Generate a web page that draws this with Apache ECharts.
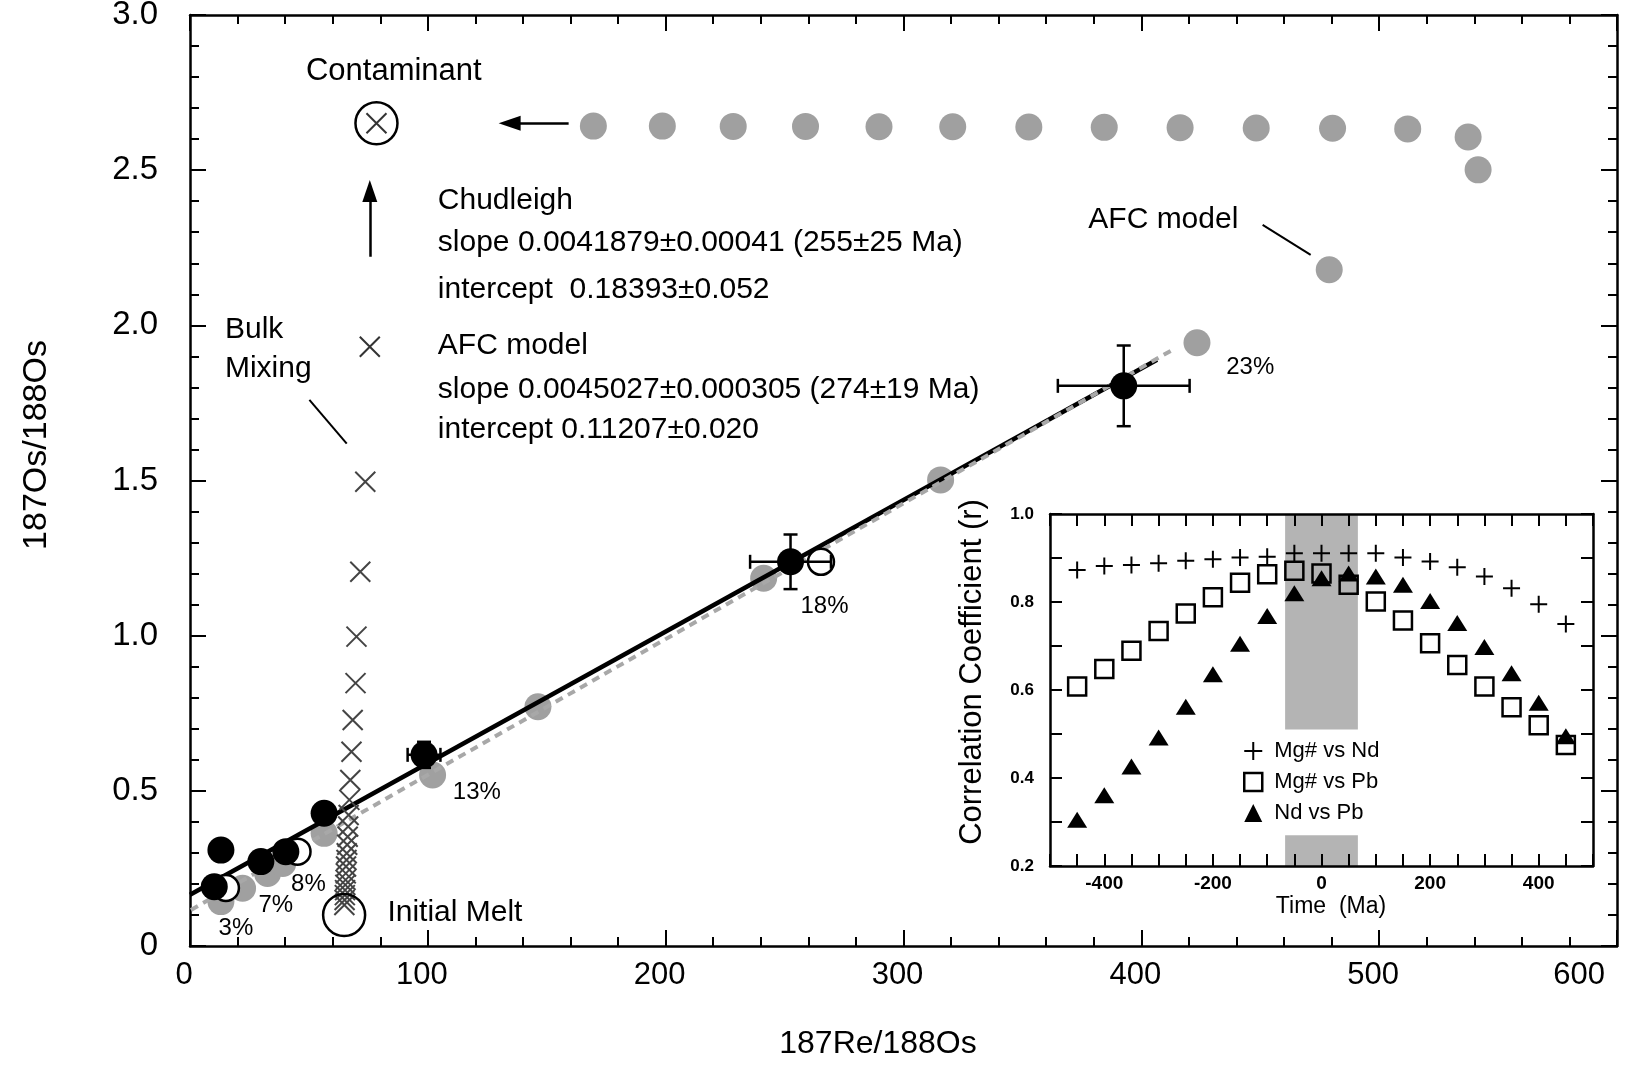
<!DOCTYPE html>
<html><head><meta charset="utf-8">
<script src="https://cdn.jsdelivr.net/npm/echarts@6/dist/echarts.min.js"></script>
<style>html,body{margin:0;padding:0;background:#fff}#c{width:1629px;height:1067px}</style>
</head><body><div id="c"></div>
<script>
// ---------------- DATA ----------------
// Chudleigh samples (filled black)
const chudX = [10.2, 13.0, 29.8, 40.3, 56.4, 98.4, 252.5, 392.6];
const chudY = [0.191, 0.309, 0.272, 0.304, 0.428, 0.616, 1.238, 1.805];
// error bars for samples (x, y, ±x, ±y)
const errX  = [98.4, 252.5, 392.6];
const errY  = [0.616, 1.238, 1.805];
const errDX = [6.9, 17, 27.7];
const errDY = [0.042, 0.088, 0.13];
// open circles
const openX = [15.1, 45.2, 265.3];
const openY = [0.187, 0.304, 1.238];
// AFC model points (grey)
const afcX = [13.0, 22.1, 32.6, 39.0, 56.4, 102.0, 146.3, 241.2, 315.6, 423.4, 479.0, 541.6, 537.4, 512.0, 480.4, 448.3, 416.3, 384.4, 352.7, 320.7, 289.7, 258.8, 228.4, 198.6, 169.6];
const afcY = [0.143, 0.186, 0.234, 0.266, 0.363, 0.551, 0.771, 1.185, 1.502, 1.944, 2.179, 2.501, 2.607, 2.633, 2.635, 2.636, 2.637, 2.638, 2.639, 2.640, 2.640, 2.641, 2.641, 2.642, 2.642];
// bulk mixing crosses
const mixX = [73.7, 71.6, 70.0, 69.6, 68.4, 67.9, 67.4, 67.0, 66.7, 66.5, 66.3, 66.1, 65.9, 65.8, 65.6, 65.5, 65.4, 65.3, 65.2, 65.1, 65.0, 64.9];
const mixY = [1.496, 1.206, 0.997, 0.847, 0.728, 0.626, 0.535, 0.471, 0.422, 0.385, 0.352, 0.326, 0.299, 0.277, 0.256, 0.234, 0.213, 0.197, 0.180, 0.164, 0.148, 0.132];
// regression lines (end points)
const chudLineX = [0, 406.6];
const chudLineY = [0.165, 1.889];
const afcLineX = [0.4, 414];
const afcLineY = [0.116, 1.925];
// end members
const initialMelt = [64.8, 0.100];
const contaminant = [78.4, 2.651];
const legendCross = [75.6, 1.931];

// Inset: correlation coefficient vs time
const timeMa = [-450,-400,-350,-300,-250,-200,-150,-100,-50,0,50,100,150,200,250,300,350,400,450];
const mgNd = [0.873,0.882,0.884,0.888,0.894,0.897,0.901,0.903,0.911,0.911,0.911,0.911,0.901,0.892,0.879,0.858,0.831,0.795,0.750];
const mgPb = [0.608,0.648,0.689,0.734,0.774,0.811,0.844,0.863,0.871,0.865,0.839,0.801,0.758,0.706,0.657,0.608,0.561,0.520,0.475];
const ndPb = [0.305,0.361,0.426,0.492,0.562,0.636,0.705,0.768,0.820,0.854,0.865,0.858,0.839,0.802,0.752,0.698,0.638,0.571,0.495];
const shadeTime = [-67, 67];

// ---------------- LAYOUT / ANNOTATIONS ----------------
const F = 'Liberation Sans, Arial, Helvetica, sans-serif';
const notesBlock = [
  ['Chudleigh', 104.2, 2.401],
  ['slope 0.0041879\u00b10.00041 (255\u00b125 Ma)', 104.2, 2.266],
  ['intercept  0.18393\u00b10.052', 104.2, 2.114],
  ['AFC model', 104.2, 1.934],
  ['slope 0.0045027\u00b10.000305 (274\u00b119 Ma)', 104.2, 1.792],
  ['intercept 0.11207\u00b10.020', 104.2, 1.663]
];
const notesLeft = [
  ['Bulk', 14.7, 1.985],
  ['Mixing', 14.7, 1.859],
  ['AFC model', 377.7, 2.340],
  ['Initial Melt', 83.0, 0.106]
];
const notesCenter = [['Contaminant', 85.7, 2.817]];
const pctNotes = [['3%',19.3,0.058],['7%',36.1,0.132],['8%',49.8,0.197],['13%',120.6,0.496],['18%',266.8,1.093],['23%',445.8,1.863]];
const leaderLines = [[[50.2,1.760],[65.9,1.619]], [[451,2.324],[471.2,2.227]]];
const arrows = [[[159.2,2.651],[134.4,2.651]], [[75.6,2.221],[75.6,2.433]]];

const zip = (a, b) => a.map((v, i) => [v, b[i]]);
const CROSS = 'path://M0,0L20,20M20,0L0,20';
const PLUS = 'path://M8,0L8,16M0,8L16,8';

function axisBase(extra) {
  return Object.assign({
    type: 'value',
    axisLine: {show: true, onZero: false, lineStyle: {color: '#000', width: 2.5}},
    axisTick: {show: true, inside: true, length: 16, lineStyle: {color: '#000', width: 2}},
    minorTick: {show: true, splitNumber: 5, length: 9, lineStyle: {color: '#000', width: 2}},
    splitLine: {show: false}, minorSplitLine: {show: false}
  }, extra);
}
const yFmt = v => (v === 0 ? '0' : v.toFixed(1));
const insetTick = {show: true, inside: true, length: 12, lineStyle: {color: '#000', width: 2}};

function textSeries(name, list, pos, size, extra) {
  return Object.assign({
    name, type: 'scatter', xAxisIndex: 0, yAxisIndex: 0, z: 9, symbolSize: 0, silent: true,
    itemStyle: {opacity: 1},
    data: list.map(n => ({name: n[0], value: [n[1], n[2]]})),
    label: pos === 'right'
      ? {show: true, position: 'right', distance: 0, formatter: p => p.name, fontSize: size, color: '#000', fontFamily: F}
      : {show: true, position: 'inside', formatter: p => p.name, fontSize: size, color: '#000', fontFamily: F}
  }, extra || {});
}

const option = {
  animation: false,
  backgroundColor: '#fff',
  grid: [
    {left: 190, top: 15, width: 1427, height: 931, show: false, outerBoundsMode: 'none', containLabel: false},
    {left: 1050, top: 514, width: 543, height: 352, show: true, backgroundColor: '#fff', borderWidth: 0, z: 10, outerBoundsMode: 'none', containLabel: false}
  ],
  xAxis: [
    axisBase({gridIndex: 0, position: 'bottom', min: 0, max: 600, interval: 100,
      axisLabel: {show: true, margin: 14, fontSize: 31, color: '#000', fontFamily: F, padding: [0, 12, 0, 0], alignMaxLabel: 'right'}}),
    axisBase({gridIndex: 0, position: 'top', min: 0, max: 600, interval: 100, axisLabel: {show: false}}),
    axisBase({gridIndex: 1, position: 'bottom', min: -500, max: 500, interval: 50, z: 11,
      axisTick: insetTick, minorTick: {show: false},
      axisLabel: {show: true, margin: 8, fontSize: 19, fontWeight: 'bold', color: '#000', fontFamily: F,
        formatter: v => (Math.abs(v) <= 400 && v % 200 === 0 ? String(v) : '')}}),
    axisBase({gridIndex: 1, position: 'top', min: -500, max: 500, interval: 50, z: 11,
      axisTick: insetTick, minorTick: {show: false}, axisLabel: {show: false}})
  ],
  yAxis: [
    axisBase({gridIndex: 0, position: 'left', min: 0, max: 3, interval: 0.5,
      axisLabel: {show: true, margin: 32, fontSize: 33, color: '#000', fontFamily: F, formatter: yFmt}}),
    axisBase({gridIndex: 0, position: 'right', min: 0, max: 3, interval: 0.5, axisLabel: {show: false}}),
    axisBase({gridIndex: 1, position: 'left', min: 0.2, max: 1.0, interval: 0.1, z: 11,
      axisTick: insetTick, minorTick: {show: false},
      axisLabel: {show: true, margin: 16, fontSize: 17, fontWeight: 'bold', color: '#000', fontFamily: F,
        formatter: v => (Math.round(v * 10) % 2 === 0 ? v.toFixed(1) : '')}}),
    axisBase({gridIndex: 1, position: 'right', min: 0.2, max: 1.0, interval: 0.1, z: 11,
      axisTick: insetTick, minorTick: {show: false}, axisLabel: {show: false}})
  ],
  legend: {
    left: 1238, top: 735, orient: 'vertical', itemWidth: 18, itemHeight: 18, itemGap: 9, z: 20,
    textStyle: {fontSize: 22, color: '#000', fontFamily: F, padding: [0, 0, 0, 7]},
    data: [
      {name: 'Mg# vs Nd', icon: PLUS, itemStyle: {color: 'rgba(0,0,0,0)', borderColor: '#000', borderWidth: 2}},
      {name: 'Mg# vs Pb', icon: 'rect', itemStyle: {color: '#fff', borderColor: '#000', borderWidth: 2.5}},
      {name: 'Nd vs Pb', icon: 'triangle', itemStyle: {color: '#000', borderWidth: 0}}
    ]
  },
  graphic: [
    {type: 'text', x: 878, y: 1044, z: 30, style: {text: '187Re/188Os', font: '32px ' + F, fill: '#000', textAlign: 'center', textVerticalAlign: 'middle'}},
    {type: 'text', x: 37, y: 445, rotation: Math.PI / 2, z: 30, style: {text: '187Os/188Os', font: '34px ' + F, fill: '#000', textAlign: 'center', textVerticalAlign: 'middle'}},
    {type: 'text', x: 1331, y: 907, z: 30, style: {text: 'Time  (Ma)', font: '23px ' + F, fill: '#000', textAlign: 'center', textVerticalAlign: 'middle'}},
    {type: 'text', x: 972, y: 672, rotation: Math.PI / 2, z: 30, style: {text: 'Correlation Coefficient (r)', font: '31px ' + F, fill: '#000', textAlign: 'center', textVerticalAlign: 'middle'}}
  ],
  series: [
    // AFC model grey dots
    {name: 'afc', type: 'scatter', xAxisIndex: 0, yAxisIndex: 0, z: 2, symbol: 'circle', symbolSize: 27,
      itemStyle: {color: '#a0a0a0', opacity: 1}, data: zip(afcX, afcY)},
    // Chudleigh regression
    {name: 'chudLine', type: 'line', xAxisIndex: 0, yAxisIndex: 0, z: 3, symbol: 'none', clip: true,
      lineStyle: {color: '#000', width: 4.5}, data: zip(chudLineX, chudLineY)},
    // AFC regression (dashed grey)
    {name: 'afcLine', type: 'line', xAxisIndex: 0, yAxisIndex: 0, z: 4, symbol: 'none', clip: true,
      lineStyle: {color: '#a8a8a8', width: 4, type: [8, 6]}, data: zip(afcLineX, afcLineY)},
    // open circles
    {name: 'open', type: 'scatter', xAxisIndex: 0, yAxisIndex: 0, z: 5, symbol: 'circle', symbolSize: 26,
      itemStyle: {color: '#fff', borderColor: '#000', borderWidth: 2.5, opacity: 1}, data: zip(openX, openY)},
    // Chudleigh black dots
    {name: 'chud', type: 'scatter', xAxisIndex: 0, yAxisIndex: 0, z: 6, symbol: 'circle', symbolSize: 27,
      itemStyle: {color: '#000', opacity: 1}, data: zip(chudX, chudY)},
    // error bars
    {name: 'err', type: 'custom', xAxisIndex: 0, yAxisIndex: 0, z: 7,
      encode: {x: 0, y: 1},
      data: errX.map((v, i) => [v, errY[i], errDX[i], errDY[i]]),
      renderItem: (params, api) => {
        const x = api.value(0), y = api.value(1), ex = api.value(2), ey = api.value(3);
        const l = api.coord([x - ex, y]), r = api.coord([x + ex, y]);
        const t = api.coord([x, y + ey]), b = api.coord([x, y - ey]);
        const cap = 7, st = {stroke: '#000', lineWidth: 2.5};
        const L = (x1, y1, x2, y2) => ({type: 'line', shape: {x1, y1, x2, y2}, style: st});
        return {type: 'group', children: [
          L(l[0], l[1], r[0], r[1]), L(t[0], t[1], b[0], b[1]),
          L(l[0], l[1] - cap, l[0], l[1] + cap), L(r[0], r[1] - cap, r[0], r[1] + cap),
          L(t[0] - cap, t[1], t[0] + cap, t[1]), L(b[0] - cap, b[1], b[0] + cap, b[1])
        ]};
      }},
    // bulk mixing crosses
    {name: 'mix', type: 'scatter', xAxisIndex: 0, yAxisIndex: 0, z: 8, symbol: CROSS, symbolSize: 20,
      itemStyle: {color: 'rgba(0,0,0,0)', borderColor: '#444', borderWidth: 2, opacity: 1}, data: zip(mixX, mixY)},
    // end-member rings
    {name: 'rings', type: 'scatter', xAxisIndex: 0, yAxisIndex: 0, z: 8, symbol: 'circle', symbolSize: 42,
      itemStyle: {color: 'rgba(0,0,0,0)', borderColor: '#000', borderWidth: 2.5, opacity: 1}, data: [initialMelt, contaminant]},
    {name: 'markCross', type: 'scatter', xAxisIndex: 0, yAxisIndex: 0, z: 8, symbol: CROSS, symbolSize: 20,
      itemStyle: {color: 'rgba(0,0,0,0)', borderColor: '#333', borderWidth: 2, opacity: 1}, data: [contaminant, legendCross]},
    // annotations
    textSeries('notesBlock', notesBlock, 'right', 30),
    textSeries('notesL', notesLeft, 'right', 30, {
      markLine: {silent: true, symbol: ['none', 'none'], label: {show: false},
        lineStyle: {color: '#000', width: 2, type: 'solid'},
        data: leaderLines.map(s => [{coord: s[0]}, {coord: s[1]}])}}),
    textSeries('notesC', notesCenter, 'inside', 31, {
      markLine: {silent: true, symbol: ['none', 'triangle'], symbolSize: [15, 22], label: {show: false},
        lineStyle: {color: '#000', width: 2.5, type: 'solid'}, itemStyle: {color: '#000'},
        data: arrows.map(s => [{coord: s[0]}, {coord: s[1]}])}}),
    textSeries('pct', pctNotes, 'inside', 24),
    // ---- inset ----
    {name: 'Mg# vs Nd', type: 'scatter', xAxisIndex: 2, yAxisIndex: 2, z: 12, symbol: PLUS, symbolSize: 17,
      itemStyle: {color: 'rgba(0,0,0,0)', borderColor: '#000', borderWidth: 2, opacity: 1}, data: zip(timeMa, mgNd),
      markArea: {silent: true, z: 11, itemStyle: {color: '#b4b4b4'},
        data: [[{coord: [shadeTime[0], 0.51]}, {coord: [shadeTime[1], 1.0]}],
               [{coord: [shadeTime[0], 0.2]}, {coord: [shadeTime[1], 0.27]}]]}},
    {name: 'Mg# vs Pb', type: 'scatter', xAxisIndex: 2, yAxisIndex: 2, z: 12, symbol: 'rect', symbolSize: 18,
      itemStyle: {color: 'rgba(0,0,0,0)', borderColor: '#000', borderWidth: 2.5, opacity: 1}, data: zip(timeMa, mgPb)},
    {name: 'Nd vs Pb', type: 'scatter', xAxisIndex: 2, yAxisIndex: 2, z: 12, symbol: 'triangle', symbolSize: [20, 16],
      itemStyle: {color: '#000', opacity: 1}, data: zip(timeMa, ndPb)}
  ]
};
const chart = echarts.init(document.getElementById('c'));
chart.setOption(option);
</script></body></html>
